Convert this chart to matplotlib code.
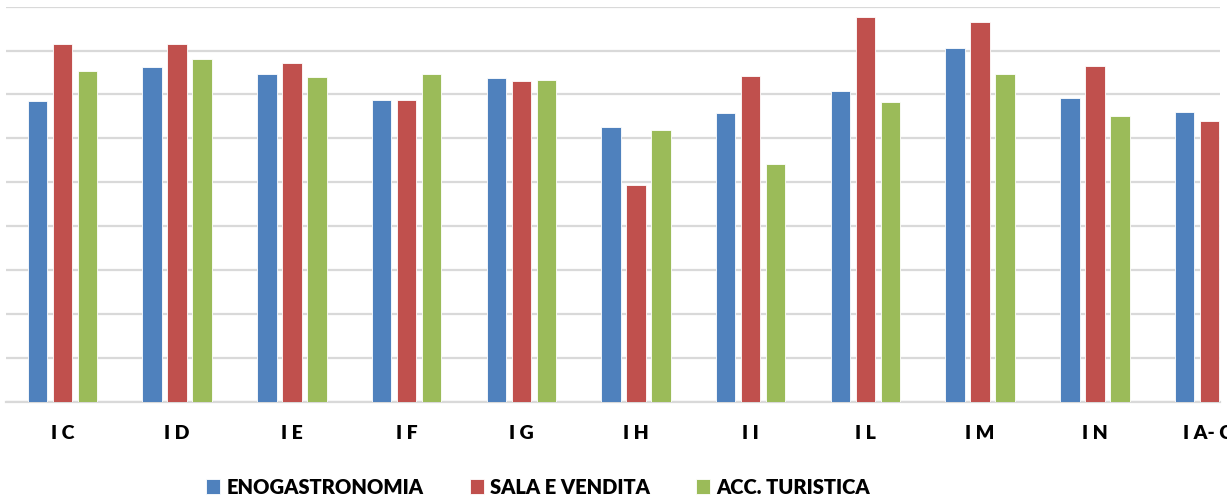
import numpy as np
import matplotlib.pyplot as plt

# --- dati ---
CLASSI = ['I C', 'I D', 'I E', 'I F', 'I G', 'I H', 'I I', 'I L', 'I M', 'I N', 'I A- C.']
ENOGASTRONOMIA = [6.86, 7.62, 7.46, 6.87, 7.37, 6.27, 6.57, 7.08, 8.05, 6.92, 6.59]
SALA_VENDITA   = [8.14, 8.16, 7.71, 6.87, 7.31, 4.93, 7.42, 8.76, 8.65, 7.64, 6.39]
ACC_TURISTICA  = [7.53, 7.81, 7.40, 7.46, 7.33, 6.20, 5.41, 6.84, 7.46, 6.51, np.nan]

SERIE = ['ENOGASTRONOMIA', 'SALA E VENDITA', 'ACC. TURISTICA']
COLORI = ['#4f81bd', '#c0504d', '#9bbb59']

plt.rcParams['font.family'] = ['Lato', 'DejaVu Sans']

fig = plt.figure(figsize=(12.27, 5.01), dpi=100)
W, H = 1227, 501
ax = fig.add_axes([6 / W, 1 - 401.7 / H, (1220 - 6) / W, (401.7 - 6.7) / H])

x = np.arange(len(CLASSI))
larg = 0.17
passo = 0.218
for k, (vals, nome, col) in enumerate(zip([ENOGASTRONOMIA, SALA_VENDITA, ACC_TURISTICA], SERIE, COLORI)):
    ax.bar(x + (k - 1) * passo, vals, width=larg, color=col, label=nome,
           edgecolor='white', linewidth=0.6, zorder=3)

ax.set_ylim(0, 9)
ax.set_xlim((6 - 62.5) / 114.7, (1220 - 62.5) / 114.7)
ax.set_yticks(np.arange(0, 10, 1))
ax.yaxis.grid(True, color='#d9d9d9', linewidth=1.6, zorder=0)
ax.tick_params(axis='y', left=False, labelleft=False)
ax.tick_params(axis='x', length=0, pad=17)
ax.set_xticks(x)
ax.set_xticklabels(CLASSI, fontsize=14, fontweight='heavy')
for s in ['top', 'right', 'left']:
    ax.spines[s].set_visible(False)
ax.spines['bottom'].set_color('#d9d9d9')
ax.spines['bottom'].set_linewidth(1.6)

fig.legend(loc='center', bbox_to_anchor=(538 / W, 1 - 487 / H), ncol=3, frameon=False,
           prop={'size': 14.5, 'weight': 'heavy'}, handlelength=0.7, handleheight=0.7,
           handletextpad=0.3, columnspacing=2.3)

fig.savefig('out.png', dpi=100)
